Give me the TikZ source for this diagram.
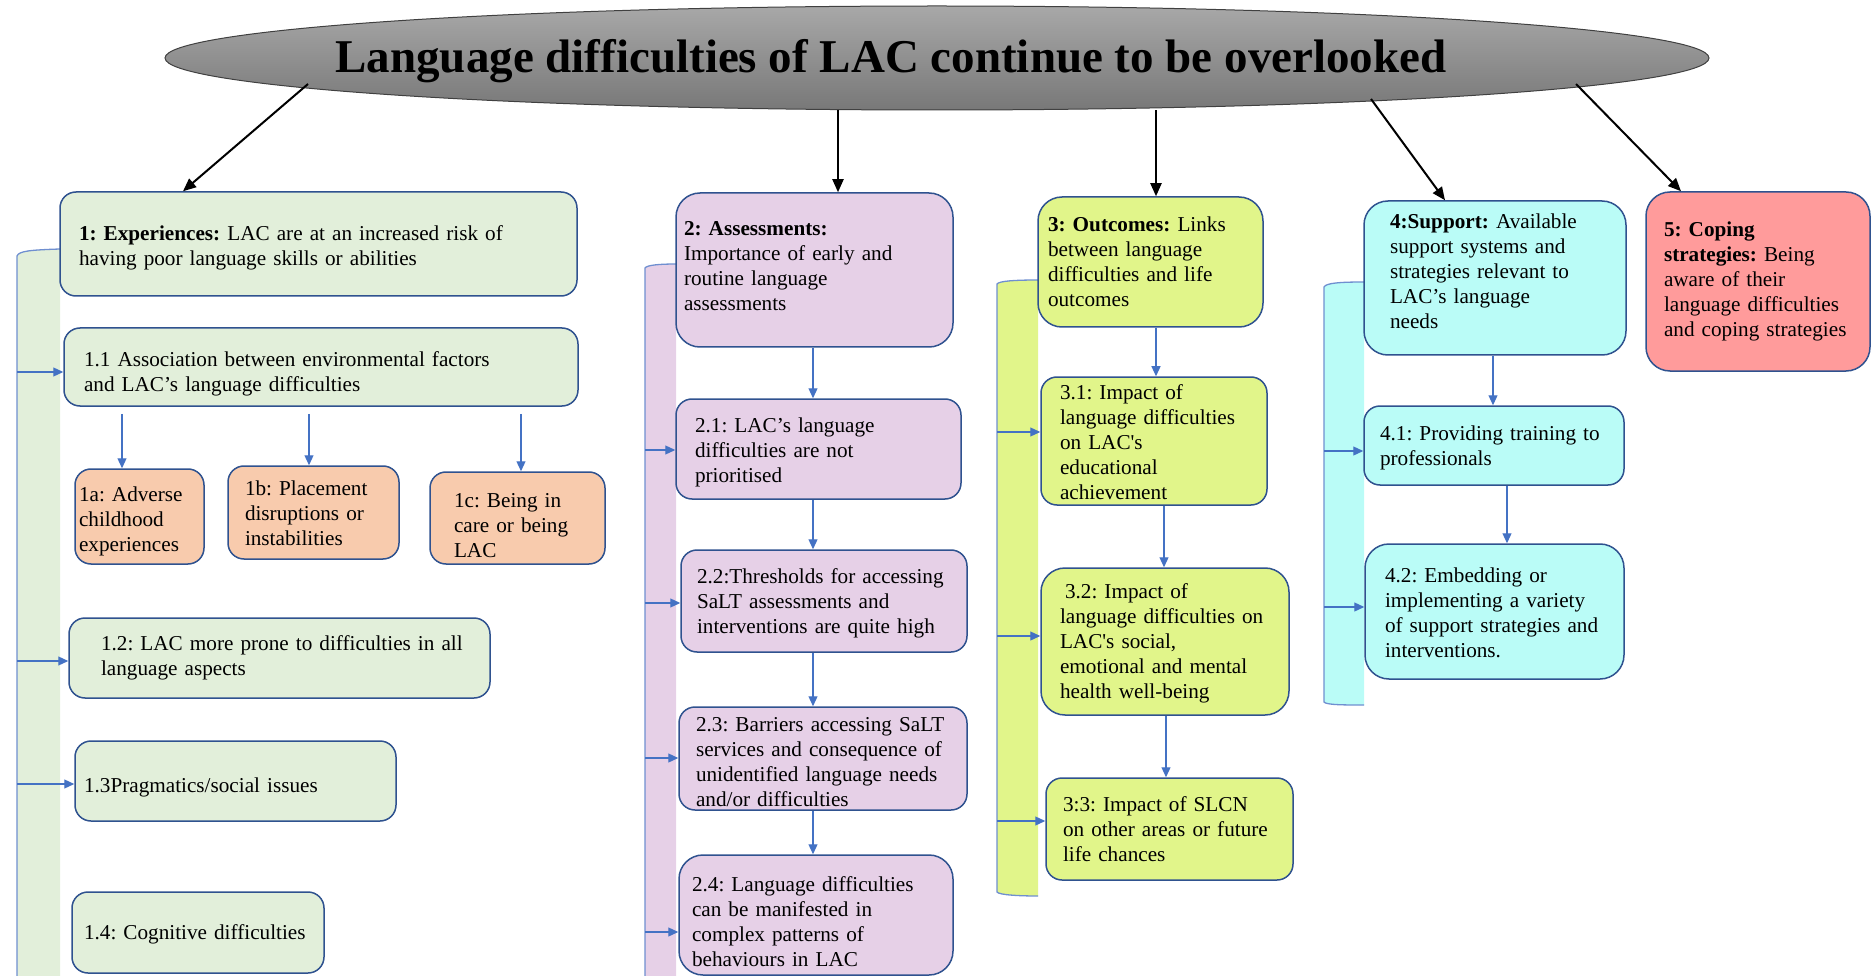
\documentclass[tikz,border=0pt]{standalone}
\usepackage{fontspec}
\setmainfont{Liberation Serif}
\usetikzlibrary{arrows.meta,shapes.geometric}
\definecolor{bordc}{HTML}{2F528F}
\definecolor{arrc}{HTML}{4472C4}
\definecolor{stripc}{HTML}{6F8FD0}
\definecolor{cgreen}{HTML}{E2EFDA}
\definecolor{cpurple}{HTML}{E6D0E7}
\definecolor{cyellow}{HTML}{E1F58A}
\definecolor{ccyan}{HTML}{BAFCF7}
\definecolor{cpeach}{HTML}{F8CBAD}
\definecolor{cpink}{HTML}{FF9B9B}
\definecolor{gtop}{HTML}{A8A8A8}
\definecolor{gbot}{HTML}{787878}
\newcommand{\tstrut}[1]{\rule{0pt}{#1}}
\newcommand{\bstrut}[1]{\rule[-#1]{0pt}{#1}}
\begin{document}
\begin{tikzpicture}[x=1pt,y=-1pt,
  box/.style={draw=bordc, line width=1.5pt, rounded corners=16pt, align=left, inner ysep=0pt,
    font=\fontsize{21.2}{25}\selectfont\frenchspacing},
  bigbox/.style={box, rounded corners=24pt},
  barrow/.style={draw=arrc, line width=1.2pt, -{Triangle[length=10pt,width=9pt]}},
  karrow/.style={draw=black, line width=2pt, -{Triangle[length=13pt,width=11pt]}},
  stripline/.style={draw=stripc, line width=1.3pt}
]
\useasboundingbox (0,0) rectangle (1872,976);

% ---- strips (brackets) ----
\fill[cgreen] (60,249) .. controls (30,250) and (19,251) .. (17,256) -- (17,990) -- (60,990) -- cycle;
\draw[stripline] (60,249) .. controls (30,250) and (19,251) .. (17,256) -- (17,990);
\coordinate (s1) at (17,0);

\fill[cpurple] (676,264) .. controls (660,264) and (647,265) .. (645,268) -- (645,990) -- (676,990) -- cycle;
\draw[stripline] (676,264) .. controls (660,264) and (647,265) .. (645,268) -- (645,990);
\coordinate (s2) at (645,0);

\fill[cyellow] (1038,280) .. controls (1015,280) and (999,281) .. (997,284) -- (997,892)
  .. controls (999,895) and (1020,896) .. (1038,896) -- cycle;
\draw[stripline] (1038,280) .. controls (1015,280) and (999,281) .. (997,284) -- (997,892)
  .. controls (999,895) and (1020,896) .. (1038,896);
\coordinate (s3) at (997,0);

\fill[ccyan] (1364,282) .. controls (1340,282) and (1326,283) .. (1324,287) -- (1324,702)
  .. controls (1326,705) and (1345,705) .. (1364,705) -- cycle;
\draw[stripline] (1364,282) .. controls (1340,282) and (1326,283) .. (1324,287) -- (1324,702)
  .. controls (1326,705) and (1345,705) .. (1364,705);
\coordinate (s4) at (1324,0);

% ---- root ellipse ----
\node[ellipse, draw=black!75, line width=1pt, top color=gtop, bottom color=gbot,
  minimum width=1544pt, minimum height=104pt, inner sep=0pt] (root) at (937,58) {};
\node[font=\fontsize{47}{56}\selectfont\bfseries, inner sep=0pt] (title) at (891,61)
  {Language difficulties of LAC continue to be overlooked};

% ---- column 1 ----
\node[box, fill=cgreen, minimum width=517pt, minimum height=104pt, text width=479pt, inner xsep=19pt] (b1) at (318.5,244)
  {\tstrut{21.8pt}\textbf{1: Experiences:} LAC are at an increased risk of\\having poor language skills or abilities};
\node[box, fill=cgreen, minimum width=514pt, minimum height=78pt, text width=474pt, inner xsep=20pt] (b11) at (321,367)
  {\tstrut{29pt}1.1 Association between environmental factors\\and LAC’s language difficulties};
\node[box, fill=cpeach, minimum width=129pt, minimum height=95pt, text width=121pt, inner xsep=4pt] (b1a) at (139.5,516.5)
  {\tstrut{24.2pt}1a: Adverse\\childhood\\experiences};
\node[box, fill=cpeach, minimum width=171pt, minimum height=93pt, text width=137pt, inner xsep=17pt] (b1b) at (313.5,512.5)
  {\tstrut{17pt}1b: Placement\\disruptions or\\instabilities};
\node[box, fill=cpeach, minimum width=175pt, minimum height=92pt, text width=127pt, inner xsep=24pt] (b1c) at (517.5,518)
  {\tstrut{29pt}1c: Being in\\care or being\\LAC};
\node[box, fill=cgreen, minimum width=421pt, minimum height=80pt, text width=357pt, inner xsep=32pt] (b12) at (279.5,658)
  {\mbox{1.2: LAC more prone to difficulties in all}\\language aspects};
\node[box, fill=cgreen, minimum width=321pt, minimum height=80pt, text width=303pt, inner xsep=9pt] (b13) at (235.5,781)
  {\tstrut{26.6pt}\mbox{1.3Pragmatics/social issues}};
\node[box, fill=cgreen, minimum width=252pt, minimum height=81pt, text width=228pt, inner xsep=12pt] (b14) at (198,932.5)
  {\tstrut{19.4pt}\mbox{1.4: Cognitive difficulties}};

% ---- column 2 ----
\node[bigbox, fill=cpurple, minimum width=277pt, minimum height=154pt, text width=261pt, inner xsep=8pt] (b2) at (814.5,270)
  {\textbf{2: Assessments:}\\Importance of early and\\routine language\\assessments\bstrut{8pt}};
\node[box, fill=cpurple, minimum width=285pt, minimum height=100pt, text width=247pt, inner xsep=19pt] (b21) at (818.5,449)
  {\tstrut{20.6pt}2.1: LAC’s language\\difficulties are not\\prioritised};
\node[box, fill=cpurple, minimum width=286pt, minimum height=102pt, text width=254pt, inner xsep=16pt] (b22) at (824,601)
  {\tstrut{19.4pt}\mbox{2.2:Thresholds for accessing}\\SaLT assessments and\\\mbox{interventions are quite high}};
\node[box, fill=cpurple, minimum width=288pt, minimum height=103pt, text width=254pt, inner xsep=17pt] (b23) at (823,758.5)
  {\tstrut{20.6pt}\mbox{2.3: Barriers accessing SaLT}\\\mbox{services and consequence of}\\\mbox{unidentified language needs}\\and/or difficulties};
\node[bigbox, fill=cpurple, minimum width=274pt, minimum height=120pt, text width=248pt, inner xsep=13pt] (b24) at (816,915)
  {\tstrut{29pt}2.4: Language difficulties\\can be manifested in\\complex patterns of\\behaviours in LAC};

% ---- column 3 ----
\node[bigbox, fill=cyellow, minimum width=225pt, minimum height=130pt, text width=205pt, inner xsep=10pt] (b3) at (1150.5,262)
  {\textbf{3: Outcomes:} Links\\between language\\difficulties and life\\outcomes};
\node[box, fill=cyellow, minimum width=226pt, minimum height=128pt, text width=188pt, inner xsep=19pt] (b31) at (1154,441)
  {\tstrut{17pt}3.1: Impact of\\language difficulties\\on LAC\textquotesingle s\\educational\\achievement};
\node[bigbox, fill=cyellow, minimum width=248pt, minimum height=147pt, text width=210pt, inner xsep=19pt] (b32) at (1165,641.5)
  {\tstrut{18.2pt}\hspace{5pt}3.2: Impact of\\\mbox{language difficulties on}\\LAC\textquotesingle s social,\\emotional and mental\\health well-being};
\node[box, fill=cyellow, minimum width=247pt, minimum height=102pt, text width=213pt, inner xsep=17pt] (b33) at (1169.5,829)
  {3:3: Impact of SLCN\\\mbox{on other areas or future}\\life chances};

% ---- column 4 ----
\node[bigbox, fill=ccyan, minimum width=262pt, minimum height=154pt, text width=210pt, inner xsep=26pt] (b4) at (1495,278)
  {\textbf{4:Support:} Available\\support systems and\\strategies relevant to\\LAC’s language\\needs\bstrut{14pt}};
\node[box, fill=ccyan, minimum width=260pt, minimum height=79pt, text width=228pt, inner xsep=16pt] (b41) at (1494,445.5)
  {\tstrut{19.4pt}\mbox{4.1: Providing training to}\\professionals};
\node[bigbox, fill=ccyan, minimum width=259pt, minimum height=135pt, text width=219pt, inner xsep=20pt] (b42) at (1494.5,611.5)
  {\tstrut{17pt}4.2: Embedding or\\implementing a variety\\\mbox{of support strategies and}\\interventions.};

% ---- column 5 ----
\node[bigbox, fill=cpink, minimum width=224pt, minimum height=179pt, text width=188pt, inner xsep=18pt] (b5) at (1758,281.5)
  {\textbf{5: Coping}\\\textbf{strategies:} Being\\aware of their\\language difficulties\\\mbox{and coping strategies}\bstrut{5pt}};

% ---- black arrows from root ----
\coordinate (r1) at (308,84);
\coordinate (r4) at (1371,99);
\coordinate (r5) at (1576,84);
\draw[karrow] (r1) -- (b1.north -| 183,0);
\draw[karrow] (root.south -| 838,0) -- (b2.north -| 838,0);
\draw[karrow] (root.south -| 1156,0) -- (b3.north -| 1156,0);
\draw[karrow] (r4) -- (b4.north -| 1445,0);
\draw[karrow] (r5) -- (b5.north -| 1681,0);

% ---- column 1 connectors ----
\draw[barrow] (s1 |- 0,372) -- (b11.west |- 0,372);
\draw[barrow] (s1 |- 0,661) -- (b12.west |- 0,661);
\draw[barrow] (s1 |- 0,784) -- (b13.west |- 0,784);
\draw[barrow, shorten <=7pt] (b11.south -| 122,0) -- (b1a.north -| 122,0);
\draw[barrow, shorten <=7pt] (b11.south -| 309,0) -- (b1b.north -| 309,0);
\draw[barrow, shorten <=7pt] (b11.south -| 521,0) -- (b1c.north -| 521,0);

% ---- column 2 connectors ----
\draw[barrow] (s2 |- 0,450) -- (b21.west |- 0,450);
\draw[barrow] (s2 |- 0,603) -- (b22.west |- 0,603);
\draw[barrow] (s2 |- 0,758) -- (b23.west |- 0,758);
\draw[barrow] (s2 |- 0,932) -- (b24.west |- 0,932);
\draw[barrow] (b2.south -| 813,0) -- (b21.north -| 813,0);
\draw[barrow] (b21.south -| 813,0) -- (b22.north -| 813,0);
\draw[barrow] (b22.south -| 813,0) -- (b23.north -| 813,0);
\draw[barrow] (b23.south -| 813,0) -- (b24.north -| 813,0);

% ---- column 3 connectors ----
\draw[barrow] (s3 |- 0,432) -- (b31.west |- 0,432);
\draw[barrow] (s3 |- 0,636) -- (b32.west |- 0,636);
\draw[barrow] (s3 |- 0,821) -- (b33.west |- 0,821);
\draw[barrow] (b3.south -| 1156,0) -- (b31.north -| 1156,0);
\draw[barrow] (b31.south -| 1164,0) -- (b32.north -| 1164,0);
\draw[barrow] (b32.south -| 1166,0) -- (b33.north -| 1166,0);

% ---- column 4 connectors ----
\draw[barrow] (s4 |- 0,451) -- (b41.west |- 0,451);
\draw[barrow] (s4 |- 0,607) -- (b42.west |- 0,607);
\draw[barrow] (b4.south -| 1493,0) -- (b41.north -| 1493,0);
\draw[barrow] (b41.south -| 1507,0) -- (b42.north -| 1507,0);
\end{tikzpicture}
\end{document}
